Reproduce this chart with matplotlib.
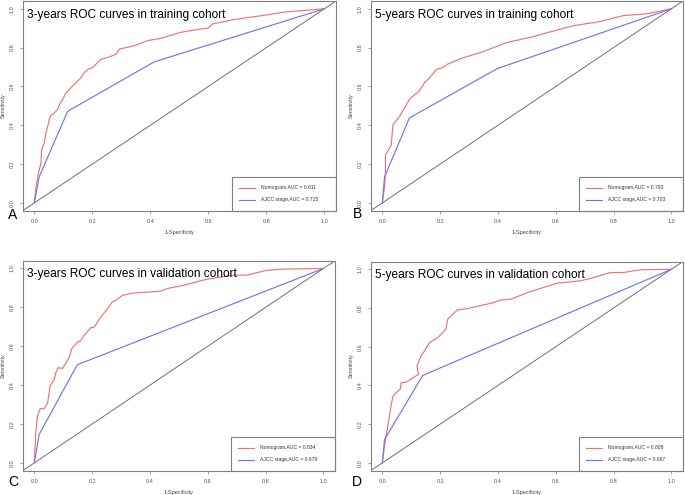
import matplotlib
matplotlib.use('Agg')
import matplotlib.pyplot as plt
from matplotlib.patches import Rectangle

plt.rcParams['font.family'] = ['Liberation Sans', 'DejaVu Sans']

# ROC points (1-specificity, sensitivity)
train3_nomo_fpr = [0, 0.006, 0.014, 0.023, 0.025, 0.034, 0.040, 0.046, 0.055, 0.069, 0.080, 0.090, 0.098,
                   0.109, 0.126, 0.144, 0.161, 0.172, 0.186, 0.201, 0.218, 0.230, 0.253, 0.282, 0.293,
                   0.345, 0.391, 0.437, 0.506, 0.575, 0.598, 0.615, 0.690, 0.805, 0.862, 1.0]
train3_nomo_tpr = [0, 0.083, 0.152, 0.204, 0.273, 0.308, 0.360, 0.394, 0.446, 0.464, 0.481, 0.516, 0.533,
                   0.567, 0.593, 0.619, 0.645, 0.671, 0.689, 0.697, 0.723, 0.740, 0.749, 0.766, 0.792,
                   0.810, 0.836, 0.848, 0.879, 0.896, 0.900, 0.922, 0.945, 0.969, 0.983, 1.0]
train3_ajcc_fpr = [0, 0.017, 0.115, 0.414, 1.0]
train3_ajcc_tpr = [0, 0.135, 0.472, 0.727, 1.0]

train5_nomo_fpr = [0, 0.008, 0.011, 0.011, 0.025, 0.031, 0.037, 0.042, 0.060, 0.077, 0.094, 0.106, 0.128,
                   0.146, 0.159, 0.174, 0.189, 0.209, 0.226, 0.255, 0.272, 0.341, 0.432, 0.513, 0.576,
                   0.662, 0.753, 0.834, 0.914, 1.0]
train5_nomo_tpr = [0, 0.083, 0.152, 0.247, 0.282, 0.299, 0.403, 0.412, 0.446, 0.490, 0.533, 0.550, 0.576,
                   0.619, 0.637, 0.663, 0.689, 0.697, 0.715, 0.732, 0.744, 0.775, 0.827, 0.853, 0.879,
                   0.913, 0.934, 0.965, 0.974, 1.0]
train5_ajcc_fpr = [0, 0.008, 0.094, 0.398, 1.0]
train5_ajcc_tpr = [0, 0.135, 0.438, 0.692, 1.0]

valid3_nomo_fpr = [0, 0.006, 0.011, 0.021, 0.034, 0.046, 0.055, 0.069, 0.075, 0.083, 0.098, 0.121, 0.129,
                   0.149, 0.161, 0.172, 0.195, 0.207, 0.230, 0.253, 0.270, 0.282, 0.305, 0.345, 0.437,
                   0.460, 0.517, 0.598, 0.690, 0.736, 0.805, 0.862, 1.0]
valid3_nomo_tpr = [0, 0.172, 0.241, 0.279, 0.279, 0.307, 0.397, 0.428, 0.466, 0.490, 0.486, 0.543, 0.586,
                   0.621, 0.629, 0.655, 0.695, 0.698, 0.750, 0.793, 0.828, 0.836, 0.862, 0.874, 0.883,
                   0.897, 0.914, 0.945, 0.966, 0.966, 0.991, 0.997, 1.0]
valid3_ajcc_fpr = [0, 0.017, 0.149, 1.0]
valid3_ajcc_tpr = [0, 0.147, 0.505, 1.0]

valid5_nomo_fpr = [0, 0.006, 0.011, 0.017, 0.023, 0.029, 0.037, 0.048, 0.063, 0.065, 0.083, 0.106, 0.125,
                   0.120, 0.134, 0.146, 0.163, 0.192, 0.220, 0.226, 0.243, 0.260, 0.295, 0.386, 0.409,
                   0.444, 0.501, 0.604, 0.685, 0.731, 0.788, 0.834, 0.891, 1.0]
valid5_nomo_tpr = [0, 0.069, 0.121, 0.172, 0.224, 0.284, 0.345, 0.362, 0.383, 0.414, 0.417, 0.440, 0.457,
                   0.500, 0.552, 0.578, 0.621, 0.647, 0.690, 0.741, 0.767, 0.790, 0.797, 0.828, 0.841,
                   0.845, 0.879, 0.928, 0.940, 0.957, 0.983, 0.983, 0.997, 1.0]
valid5_ajcc_fpr = [0, 0.008, 0.140, 1.0]
valid5_ajcc_tpr = [0, 0.121, 0.452, 1.0]

titles = ["3-years ROC curves in training cohort", "5-years ROC curves in training cohort",
          "3-years ROC curves in validation cohort", "5-years ROC curves in validation cohort"]
nomo_auc = [0.811, 0.793, 0.834, 0.808]
ajcc_auc = [0.715, 0.703, 0.679, 0.667]
letters = ["A", "B", "C", "D"]
ticks = [0.0, 0.2, 0.4, 0.6, 0.8, 1.0]
tick_labels = ["0.0", "0.2", "0.4", "0.6", "0.8", "1.0"]

W, H = 685, 495
fig = plt.figure(figsize=(W / 100, H / 100), dpi=100)

# axes boxes in pixels: left, top, right, bottom
boxes = [(22.7, 1, 336, 210.7), (370.7, 1, 683, 210.7),
         (22.7, 260.7, 335, 470.7), (370.7, 261.5, 683, 470.7)]
letter_pos = [(13, 215), (357, 214), (13, 482), (357, 482)]

curves = [(train3_nomo_fpr, train3_nomo_tpr, train3_ajcc_fpr, train3_ajcc_tpr),
          (train5_nomo_fpr, train5_nomo_tpr, train5_ajcc_fpr, train5_ajcc_tpr),
          (valid3_nomo_fpr, valid3_nomo_tpr, valid3_ajcc_fpr, valid3_ajcc_tpr),
          (valid5_nomo_fpr, valid5_nomo_tpr, valid5_ajcc_fpr, valid5_ajcc_tpr)]

edge = '#808080'
for i in range(4):
    l, t, r, b = boxes[i]
    ax = fig.add_axes([l / W, 1 - b / H, (r - l) / W, (b - t) / H])
    nx, ny, ajx, ajy = curves[i]
    ax.axline((0, 0), (1, 1), color='#707070', lw=0.7)
    ax.plot(nx, ny, color='#f27272', lw=0.85, label="Nomogram,AUC = %.3f" % nomo_auc[i])
    ax.plot(ajx, ajy, color='#7474f2', lw=0.85, label="AJCC stage,AUC = %.3f" % ajcc_auc[i])
    ax.set_xlim(-0.04, 1.04)
    ax.set_ylim(-0.04, 1.04)
    ax.set_xticks(ticks)
    ax.set_xticklabels(tick_labels)
    ax.set_yticks(ticks)
    ax.set_yticklabels(tick_labels, rotation=90, va='center')
    ax.tick_params(labelsize=4, colors='#555555', length=2, width=0.5, pad=4, color=edge)
    for s in ax.spines.values():
        s.set_color(edge)
        s.set_linewidth(0.8)
    ax.set_xlabel("1-Specificity", fontsize=4, color='#444444')
    ax.set_ylabel("Sensitivity", fontsize=4, color='#444444')
    ax.xaxis.set_label_coords(0.5, -0.094)
    ax.yaxis.set_label_coords(-0.054, 0.5)
    ax.text(0.015, 0.935, titles[i], transform=ax.transAxes, fontsize=8.6, va='center', ha='left')
    # legend box in bottom right corner
    ax.add_patch(Rectangle((0.668, 0), 0.332, 0.161, transform=ax.transAxes, fill=False,
                           edgecolor=edge, lw=0.8, clip_on=False))
    ax.legend(loc='center left', bbox_to_anchor=(0.675, 0.08), frameon=False, fontsize=3.6,
              handlelength=3.2, handletextpad=1.2, labelspacing=1.4, labelcolor='#333333')
    fig.text(letter_pos[i][0] / W, 1 - letter_pos[i][1] / H, letters[i], fontsize=10,
             ha='center', va='center')

fig.savefig('out.png', dpi=100)
